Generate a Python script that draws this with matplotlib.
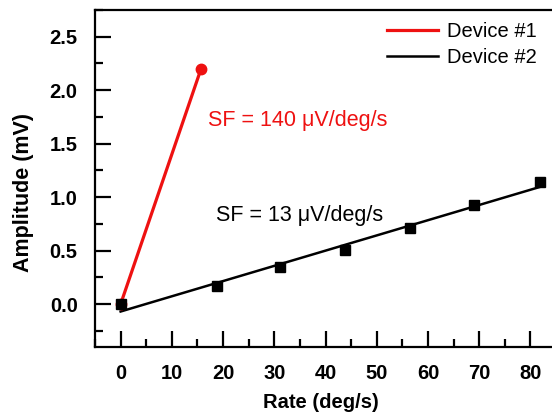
import numpy as np
import matplotlib
matplotlib.use("Agg")
import matplotlib.pyplot as plt
from matplotlib.ticker import MultipleLocator, FormatStrFormatter

plt.rcParams['font.family'] = ['Liberation Sans', 'DejaVu Sans']

# Device #1: rate (deg/s) vs amplitude (mV)
rate_dev1 = [0.0, 15.7]
amp_dev1 = [0.0, 2.2]

# Device #2: rate (deg/s) vs amplitude (mV)
rate_dev2 = [0.0, 18.9, 31.2, 43.9, 56.4, 68.9, 81.8]
amp_dev2 = [0.0, 0.17, 0.345, 0.51, 0.71, 0.93, 1.14]

label_dev1 = "Device #1"
label_dev2 = "Device #2"
sf_text_dev1 = "SF = 140 μV/deg/s"
sf_text_dev2 = "SF = 13 μV/deg/s"

W, H = 552, 415
fig = plt.figure(figsize=(W / 100, H / 100), dpi=100)
ax = fig.add_axes([95 / W, 1 - 347 / H, (556 - 95) / W, (347 - 10) / H])

# Linear fits through each device's points
k1, b1 = np.polyfit(rate_dev1, amp_dev1, 1)
k2, b2 = np.polyfit(rate_dev2, amp_dev2, 1)
x1 = np.array([rate_dev1[0], rate_dev1[-1]])
x2 = np.array([rate_dev2[0], rate_dev2[-1]])

red = '#ee1111'
ax.plot(x1, k1 * x1 + b1, color=red, lw=2.3, label=label_dev1, zorder=3)
ax.plot(rate_dev1, amp_dev1, 'o', color=red, ms=7.5, zorder=4)
ax.plot(x2, k2 * x2 + b2, color='black', lw=1.8, label=label_dev2, zorder=3)
ax.plot(rate_dev2, amp_dev2, 's', color='black', ms=6.8, zorder=5)

ax.text(17.0, 1.715, sf_text_dev1, color=red, fontsize=15.5, va='center', ha='left')
ax.text(18.7, 0.83, sf_text_dev2, color='black', fontsize=15.5, va='center', ha='left')

ax.set_xlim(-5, 85)
ax.set_ylim(-0.4, 2.75)
ax.xaxis.set_major_locator(MultipleLocator(10))
ax.xaxis.set_minor_locator(MultipleLocator(5))
ax.yaxis.set_major_locator(MultipleLocator(0.5))
ax.yaxis.set_minor_locator(MultipleLocator(0.25))
ax.yaxis.set_major_formatter(FormatStrFormatter('%.1f'))

ax.tick_params(which='major', direction='in', length=11.5, width=1.6,
               labelsize=14.5, pad=12.5, top=False, right=False)
ax.tick_params(which='minor', direction='in', length=6, width=1.6,
               top=False, right=False)
for lbl in ax.get_xticklabels() + ax.get_yticklabels():
    lbl.set_fontweight('bold')
for s in ax.spines.values():
    s.set_linewidth(1.6)

ax.set_xlabel("Rate (deg/s)", fontsize=14.5, fontweight='bold', va='center')
ax.set_ylabel("Amplitude (mV)", fontsize=15.5, fontweight='bold', va='center')
ax.xaxis.set_label_coords(320.5 / W, 1 - 402 / H, transform=fig.transFigure)
ax.yaxis.set_label_coords(24 / W, 1 - 192.5 / H, transform=fig.transFigure)

ax.legend(loc='upper right', frameon=False, fontsize=14.5, handlelength=2.55,
          handletextpad=0.45, labelspacing=0.35, borderaxespad=0.0, borderpad=0.0,
          bbox_to_anchor=(537 / W, 1 - 22 / H), bbox_transform=fig.transFigure)

fig.savefig("out.png", dpi=100)
